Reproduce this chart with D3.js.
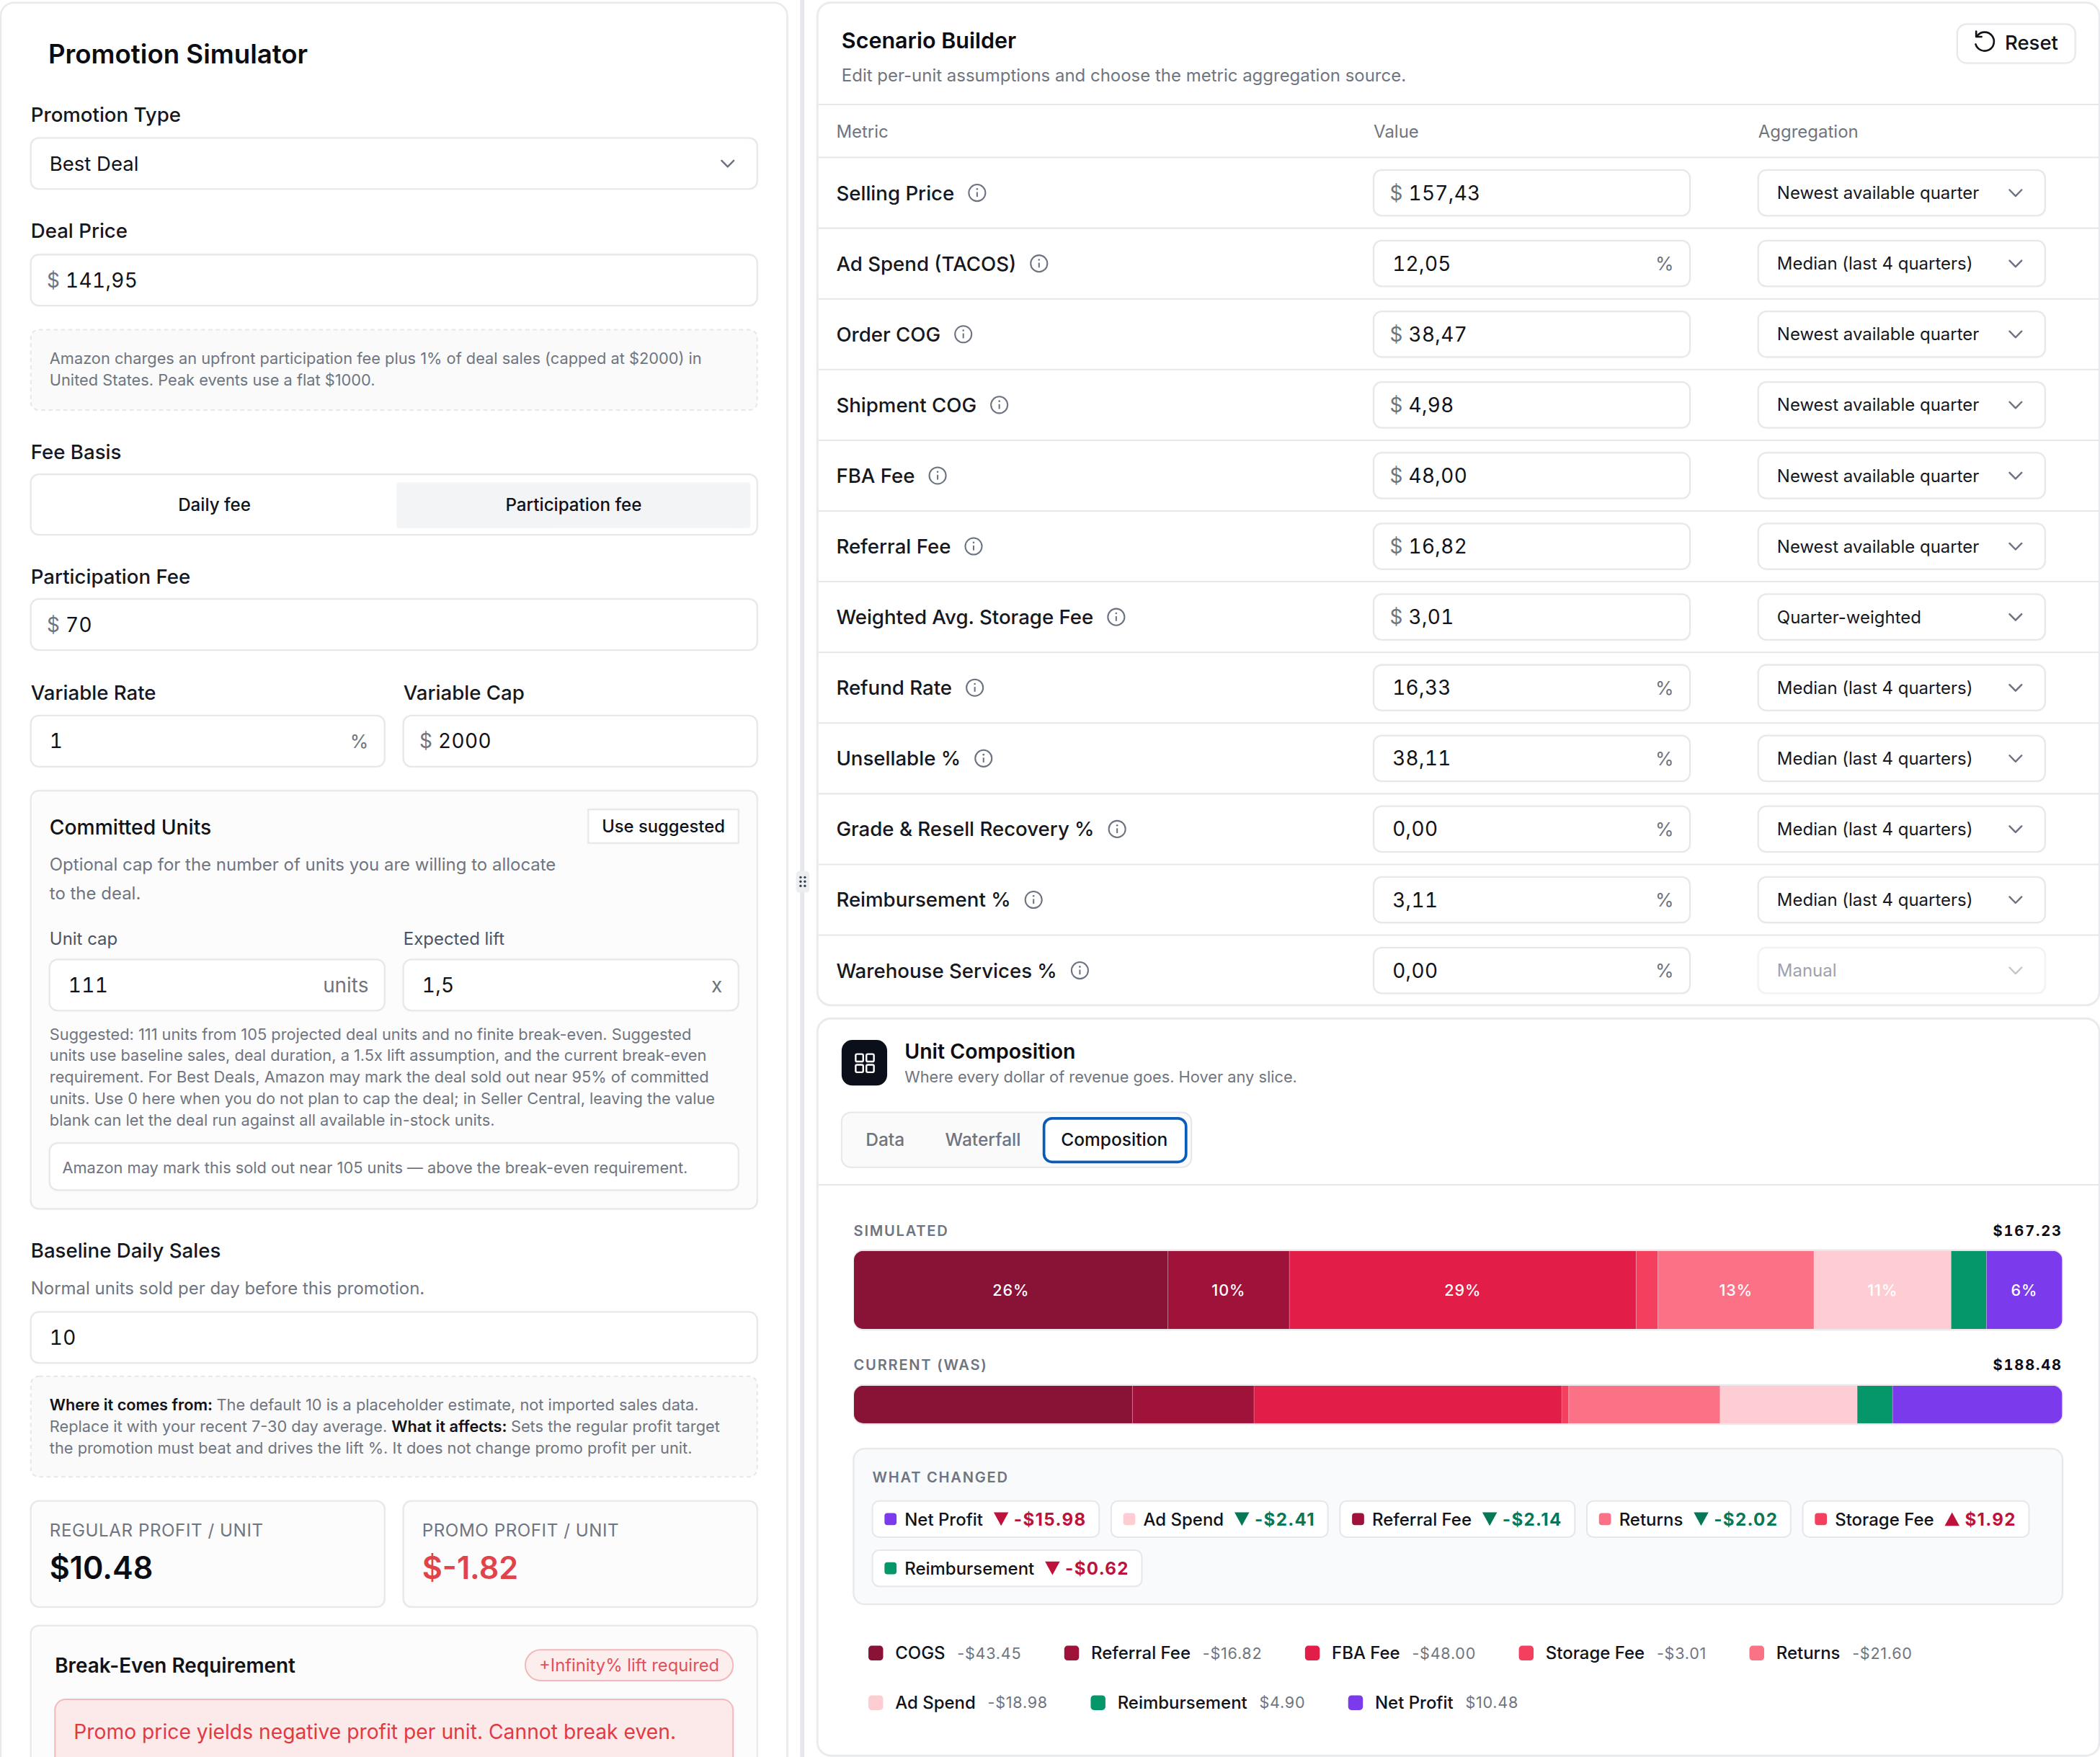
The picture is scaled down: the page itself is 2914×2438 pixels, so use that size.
<!DOCTYPE html>
<html><head><meta charset="utf-8">
<script src="https://cdn.jsdelivr.net/npm/d3@7/dist/d3.min.js"></script>
<style>html,body{margin:0;padding:0;background:#fff;overflow:hidden}svg{display:block}text{font-family:Inter,"Noto Sans",sans-serif;white-space:pre}.tn{font-feature-settings:"tnum";font-variant-numeric:tabular-nums}</style>
</head><body><svg id="c" width="2914" height="2438" viewBox="0 0 1567 1311"></svg>
<script>
// ---------- data ----------
const metricNames=["Selling Price","Ad Spend (TACOS)","Order COG","Shipment COG","FBA Fee","Referral Fee","Weighted Avg. Storage Fee","Refund Rate","Unsellable %","Grade & Resell Recovery %","Reimbursement %","Warehouse Services %"];
const metricValues=["157,43","12,05","38,47","4,98","48,00","16,82","3,01","16,33","38,11","0,00","3,11","0,00"];
const metricUnits=["$","%","$","$","$","$","$","%","%","%","%","%"];
const metricAgg=["Newest available quarter","Median (last 4 quarters)","Newest available quarter","Newest available quarter","Newest available quarter","Newest available quarter","Quarter-weighted","Median (last 4 quarters)","Median (last 4 quarters)","Median (last 4 quarters)","Median (last 4 quarters)","Manual"];
const segNames=["COGS","Referral Fee","FBA Fee","Storage Fee","Returns","Ad Spend","Reimbursement","Net Profit"];
const segColors=["#881337","#9f1239","#e11d48","#f43f5e","#fb7185","#fecdd3","#059669","#7c3aed"];
const simulatedValues=[43.45,16.82,48.00,3.01,21.60,18.98,4.90,10.48];
const currentValues=[43.45,18.96,48.00,1.09,23.62,21.39,5.52,26.46];
const legendLabels=["-$43.45","-$16.82","-$48.00","-$3.01","-$21.60","-$18.98","$4.90","$10.48"];
const changeNames=["Net Profit","Ad Spend","Referral Fee","Returns","Storage Fee","Reimbursement"];
const changeValues=[-15.98,-2.41,-2.14,-2.02,1.92,-0.62];
const changeGood=[false,true,true,true,false,false];
const feeNote=["Amazon charges an upfront participation fee plus 1% of deal sales (capped at $2000) in","United States. Peak events use a flat $1000."];
const suggestNote=["Suggested: 111 units from 105 projected deal units and no finite break-even. Suggested","units use baseline sales, deal duration, a 1.5x lift assumption, and the current break-even","requirement. For Best Deals, Amazon may mark the deal sold out near 95% of committed","units. Use 0 here when you do not plan to cap the deal; in Seller Central, leaving the value","blank can let the deal run against all available in-stock units."];

// ---------- helpers ----------
const svg=d3.select("#c");
const BORDER="#e5e7eb",GRAY="#6f7580",INK="#111318";
svg.append("rect").attr("width",1567).attr("height",1311).attr("fill","#fff");
function box(x,y,w,h,o={}){return svg.append("rect").attr("x",x).attr("y",y).attr("width",w).attr("height",h)
  .attr("rx",o.r??6).attr("fill",o.fill??"#fff").attr("stroke",o.stroke??BORDER).attr("stroke-width",o.sw??1.1)
  .attr("stroke-dasharray",o.dash??null)
  .style("filter",(o.dash||o.stroke==="none"||o.flat)?null:"drop-shadow(0 .6px .5px rgba(0,0,0,.05))");}
function txt(x,y,s,size,o={}){return svg.append("text").attr("x",x).attr("y",y).attr("dy",".36em").text(s)
  .attr("class",o.tn?"tn":null)
  .attr("font-size",size).attr("font-weight",o.w??400).attr("fill",o.fill??INK)
  .attr("text-anchor",o.a??"start").attr("letter-spacing",o.ls??null).attr("opacity",o.op??null);}
function chevron(x,y,c="#6b7280",op=1){svg.append("path").attr("d",`M${x-4.5},${y-2.2}L${x},${y+2.4}L${x+4.5},${y-2.2}`)
  .attr("fill","none").attr("stroke",c).attr("stroke-width",1.3).attr("stroke-linecap","round").attr("stroke-linejoin","round").attr("opacity",op);}
function label(x,y,s){return txt(x,y,s,14.85,{w:500,fill:"#15181e"});}
function val(x,y,s){return txt(x,y,s,15,{tn:true,ls:.2});}
function width(el){return el.node().getComputedTextLength();}

// ---------- left panel ----------
box(0.5,2,587,1400,{r:10,stroke:"#e8eaed",sw:1.4,flat:1});
txt(36,40,"Promotion Simulator",19.7,{w:600,fill:"#0b0d12"});
label(23,85.5,"Promotion Type");
box(23,103,542,38);txt(37,122,"Best Deal",14.8);chevron(543,122);
label(23,172,"Deal Price");
box(23,190,542,38);txt(35,209,"$",15,{fill:GRAY});val(49,209,"141,95");
box(23,246,542,60,{fill:"#fafafa",dash:"3 2.5"});
feeNote.forEach((s,i)=>txt(37,267.5+16*i,s,11.72,{fill:GRAY}));
label(23,337,"Fee Basis");
box(23,354,542,45);box(296,360,264,34,{r:2,fill:"#f3f4f6",stroke:"none"});
txt(160,376.5,"Daily fee",13,{a:"middle",w:500});txt(428,376.5,"Participation fee",13,{a:"middle",w:500});
label(23,430,"Participation Fee");
box(23,447,542,38);txt(35,466,"$",15,{fill:GRAY});val(49,466,"70");
label(23,517,"Variable Rate");label(301,517,"Variable Cap");
box(23,534,264,38);val(37,553,"1");txt(275,553,"%",14,{a:"end",fill:GRAY});
box(301,534,264,38);txt(313,553,"$",15,{fill:GRAY});val(327,553,"2000");
box(23,590,542,312,{fill:"#fcfcfd"});
txt(37,617.5,"Committed Units",15.2,{w:500});
box(439,604,112,25,{r:0});txt(495,616.5,"Use suggested",12.8,{a:"middle",w:500});
txt(37,645,"Optional cap for the number of units you are willing to allocate",12.9,{fill:GRAY});
txt(37,666.5,"to the deal.",12.9,{fill:GRAY});
txt(37,700.5,"Unit cap",12.9,{fill:"#4b5563"});txt(301,700.5,"Expected lift",12.9,{fill:"#4b5563"});
box(37,716,250,38);val(51,735,"111");txt(275,735,"units",15,{a:"end",fill:GRAY});
box(301,716,250,38);val(315,735,"1,5");txt(539,735,"x",15,{a:"end",fill:GRAY});
suggestNote.forEach((s,i)=>txt(37,771.5+16.1*i,s,11.72,{fill:GRAY}));
box(37,853,514,35);txt(46.5,871,"Amazon may mark this sold out near 105 units — above the break-even requirement.",11.72,{fill:GRAY});
label(23,933,"Baseline Daily Sales");
txt(23,961,"Normal units sold per day before this promotion.",12.9,{fill:GRAY});
box(23,979,542,38);val(37,998,"10");
box(23,1027,542,75,{fill:"#fafafa",dash:"3 2.5"});
{
 const t=svg.append("text").attr("font-size",11.72).attr("fill",GRAY);
 const line=(y,parts)=>{const l=t.append("tspan").attr("x",37).attr("y",y);parts.forEach(([s,b])=>{l.append("tspan").text(s).attr("font-weight",b?600:400).attr("fill",b?INK:GRAY);});};
 line(1052.3,[["Where it comes from: ",1],["The default 10 is a placeholder estimate, not imported sales data.",0]]);
 line(1068.3,[["Replace it with your recent 7-30 day average. ",0],["What it affects: ",1],["Sets the regular profit target",0]]);
 line(1084.8,[["the promotion must beat and drives the lift %. It does not change promo profit per unit.",0]]);
}
box(23,1120,264,79,{fill:"#fcfcfc"});box(301,1120,264,79,{fill:"#fcfcfc"});
txt(37,1142,"REGULAR PROFIT / UNIT",13,{fill:GRAY,ls:.3});txt(315,1142,"PROMO PROFIT / UNIT",13,{fill:GRAY,ls:.3});
txt(37,1170,"$10.48",23.2,{w:600,fill:"#0b0d12"});txt(315,1170,"$-1.82",23.2,{w:600,fill:"#e0434a"});
box(23,1213,542,300,{fill:"#fcfcfc"});
txt(41,1242.5,"Break-Even Requirement",15,{w:600});
box(392,1231,155,23,{r:11.5,fill:"#fdeeee",stroke:"#f2b8bb",flat:1});
txt(469.5,1242.5,"+Infinity% lift required",12.8,{a:"middle",fill:"#e25059"});
box(41,1268,506,100,{r:8,fill:"#fce9ea",stroke:"#f3b9bc",flat:1});
txt(55,1292,"Promo price yields negative profit per unit. Cannot break even.",15.2,{fill:"#e13a43"});

// divider and handle
svg.append("rect").attr("x",597).attr("y",0).attr("width",3.2).attr("height",1311).attr("fill","#e5e7eb");
box(594,650,10,16,{r:2.5,fill:"#eceef0",stroke:"none"});
svg.append("g").selectAll("circle").data(d3.cross([0,1],[0,1,2])).join("circle")
  .attr("cx",d=>597.4+d[0]*3.2).attr("cy",d=>654.6+d[1]*3.2).attr("r",.9).attr("fill","#374151");

// ---------- scenario builder ----------
box(610,2,956.5,748,{r:10,stroke:"#e8eaed",sw:1.4});
txt(628,30,"Scenario Builder",16.4,{w:600,fill:"#0b0d12"});
txt(628,56,"Edit per-unit assumptions and choose the metric aggregation source.",12.9,{fill:GRAY});
box(1460.5,18,88,29,{r:7});
svg.append("path").attr("d","M1475.5,26.5 A7,7 0 1 1 1474.2,33").attr("fill","none").attr("stroke",INK).attr("stroke-width",1.4).attr("stroke-linecap","round");
svg.append("path").attr("d","M1474.6,23.4 V27.4 H1478.6").attr("fill","none").attr("stroke",INK).attr("stroke-width",1.4).attr("stroke-linecap","round").attr("stroke-linejoin","round");
txt(1496,32,"Reset",14.8,{w:500});
const hr=(y,x1=610.5,x2=1566)=>svg.append("line").attr("x1",x1).attr("x2",x2).attr("y1",y).attr("y2",y).attr("stroke",BORDER).attr("stroke-width",1.1);
hr(78);
txt(624,98,"Metric",12.9,{fill:GRAY});txt(1025,98,"Value",12.9,{fill:GRAY});txt(1312,98,"Aggregation",12.9,{fill:GRAY});
hr(117.5);
const rowScale=d3.scaleBand().domain(metricNames).range([117.5,750.5]);
metricNames.forEach((name,i)=>{
  const cy=rowScale(name)+rowScale.bandwidth()/2;
  if(i)hr(rowScale(name));
  const t=txt(624,cy,name,14.85,{w:500,fill:"#15181e"});
  const ix=624+width(t)+17;
  svg.append("circle").attr("cx",ix).attr("cy",cy).attr("r",6.2).attr("fill","none").attr("stroke","#6b7280").attr("stroke-width",1.1);
  svg.append("line").attr("x1",ix).attr("x2",ix).attr("y1",cy-.6).attr("y2",cy+3).attr("stroke","#6b7280").attr("stroke-width",1.1);
  svg.append("circle").attr("cx",ix).attr("cy",cy-2.8).attr("r",.7).attr("fill","#6b7280");
  box(1025,cy-17,236,34);
  if(metricUnits[i]==="$"){txt(1037,cy,"$",15,{fill:GRAY});val(1051,cy,metricValues[i]);}
  else{val(1039,cy,metricValues[i]);txt(1249,cy,"%",14,{a:"end",fill:GRAY});}
  const manual=metricAgg[i]==="Manual";
  box(1312,cy-17,214,34,{stroke:manual?"#f1f2f4":BORDER});
  txt(1326,cy,metricAgg[i],12.9,{fill:manual?"#9ca3af":"#15181e"});
  chevron(1504,cy,manual?"#c4c8ce":"#6b7280");
});

// ---------- unit composition ----------
box(610,760,956.5,550,{r:10,stroke:"#e8eaed",sw:1.4});
box(628,776,34,34,{r:8,fill:"#0b0f1a",stroke:"none"});
svg.append("g").selectAll("rect").data(d3.cross([0,1],[0,1])).join("rect")
  .attr("x",d=>638.5+d[0]*8).attr("y",d=>786.5+d[1]*8).attr("width",5.6).attr("height",5.6).attr("rx",1)
  .attr("fill","none").attr("stroke","#fff").attr("stroke-width",1.3);
txt(675,784.5,"Unit Composition",15.3,{w:600,fill:"#0b0d12"});
txt(675,803.5,"Where every dollar of revenue goes. Hover any slice.",11.72,{fill:GRAY});
box(628,830,261,41,{r:7,fill:"#fafafa",flat:1});
txt(660.5,850,"Data",13.2,{a:"middle",w:500,fill:GRAY});
txt(733.5,850,"Waterfall",13.2,{a:"middle",w:500,fill:GRAY});
box(779,834.5,106,32.5,{r:6,stroke:"#0a5db6",sw:2,flat:1});
txt(831.5,850,"Composition",13.2,{a:"middle",w:500});
hr(884);

// stacked bars
const BAR_X0=637.2,BAR_X1=1538.8;
function stackedBar(values,y,h,totalStr,name,labelY,showLabels){
  const total=d3.sum(values);
  const x=d3.scaleLinear().domain([0,total]).range([BAR_X0,BAR_X1]);
  const ends=Array.from(d3.cumsum(values));
  const clip="clip"+Math.round(y);
  svg.append("clipPath").attr("id",clip).append("rect").attr("x",BAR_X0).attr("y",y).attr("width",BAR_X1-BAR_X0).attr("height",h).attr("rx",7);
  svg.append("rect").attr("x",BAR_X0-.6).attr("y",y-1.2).attr("width",BAR_X1-BAR_X0+1.2).attr("height",h+2.4).attr("rx",8).attr("fill","#ece7ea");
  const g=svg.append("g").attr("clip-path",`url(#${clip})`);
  g.selectAll("rect").data(values).join("rect")
    .attr("x",(d,i)=>x(ends[i]-d)).attr("y",y).attr("width",d=>x(d)-x(0)).attr("height",h).attr("fill",(d,i)=>segColors[i]);
  g.selectAll("line").data(values.slice(0,-1)).join("line")
    .attr("x1",(d,i)=>x(ends[i])).attr("x2",(d,i)=>x(ends[i])).attr("y1",y).attr("y2",y+h)
    .attr("stroke","#fff").attr("stroke-opacity",.25).attr("stroke-width",.6);
  if(showLabels){
    svg.append("g").selectAll("text").data(values).join("text")
      .filter(d=>d/total>=.05)
      .attr("x",(d)=>x(ends[values.indexOf(d)]-d/2)).attr("y",y+h/2).attr("dy",".36em").attr("text-anchor","middle")
      .attr("font-size",11.6).attr("font-weight",500).attr("letter-spacing",.5).attr("fill","#fff")
      .text(d=>Math.round(d/total*100)+"%");
  }
  txt(637,labelY,name,10.8,{w:600,fill:GRAY,ls:.95});
  txt(1539,labelY,totalStr,10.8,{w:700,a:"end",fill:"#0b0d12",ls:1,tn:true});
}
stackedBar(simulatedValues,933.4,58.2,"$167.23","SIMULATED",918.5,true);
stackedBar(currentValues,1034,28,"$188.48","CURRENT (WAS)",1018.5,false);

// what changed
box(637,1081,902,116,{r:8,fill:"#f9fafb"});
txt(651,1102.5,"WHAT CHANGED",10.8,{w:600,fill:GRAY,ls:.95});
{
 let cx=651,row=0;const cy0=1133.5,rowStep=36.7,gap=9;
 changeNames.forEach((n,i)=>{
  const v=changeValues[i],col=changeGood[i]?"#047857":"#be123c";
  const g=svg.append("g");
  const nm=g.append("text").attr("font-size",12.9).attr("font-weight",500).attr("fill",INK).attr("dy",".36em").text(n);
  const vt=g.append("text").attr("font-size",13).attr("font-weight",700).attr("fill",col).attr("dy",".36em").attr("letter-spacing",.7)
    .text((v<0?"-":"")+"$"+Math.abs(v).toFixed(2));
  const nw=width(nm),vw=width(vt),w=9+9+6+nw+8+11+4+vw+9.5;
  if(cx+w>1533){cx=651;row++;}
  const cy=cy0+row*rowStep;
  g.insert("rect","text").attr("x",cx).attr("y",cy-13.5).attr("width",w).attr("height",27).attr("rx",5).attr("fill","#fff").attr("stroke",BORDER).attr("stroke-width",1.1);
  g.insert("rect","text").attr("x",cx+9).attr("y",cy-4.5).attr("width",9).attr("height",9).attr("rx",2.2).attr("fill",segColors[segNames.indexOf(n)]);
  nm.attr("x",cx+24).attr("y",cy);
  const tx=cx+24+nw+8+5.5;
  g.append("path").attr("d",d3.line()(v<0?[[tx-5.5,cy-5],[tx+5.5,cy-5],[tx,cy+5]]:[[tx-5.5,cy+5],[tx+5.5,cy+5],[tx,cy-5]])+"Z").attr("fill",col);
  vt.attr("x",tx+5.5+4).attr("y",cy);
  cx+=w+gap;
 });
}

// legend
{
 let cx=648,row=0;
 segNames.forEach((n,i)=>{
  const g=svg.append("g");
  const nm=g.append("text").attr("font-size",12.9).attr("font-weight",500).attr("fill",INK).attr("dy",".36em").text(n);
  const vt=g.append("text").attr("font-size",11.6).attr("fill",GRAY).attr("dy",".36em").attr("letter-spacing",.4).text(legendLabels[i]);
  const nw=width(nm),vw=width(vt),w=20+nw+9+vw;
  if(cx+w>1539){cx=648;row++;}
  const cy=1233.5+row*37;
  g.append("rect").attr("x",cx).attr("y",cy-5.5).attr("width",11).attr("height",11).attr("rx",2.5).attr("fill",segColors[i]);
  nm.attr("x",cx+20).attr("y",cy);vt.attr("x",cx+20+nw+9).attr("y",cy);
  cx+=w+32;
 });
}
</script></body></html>
